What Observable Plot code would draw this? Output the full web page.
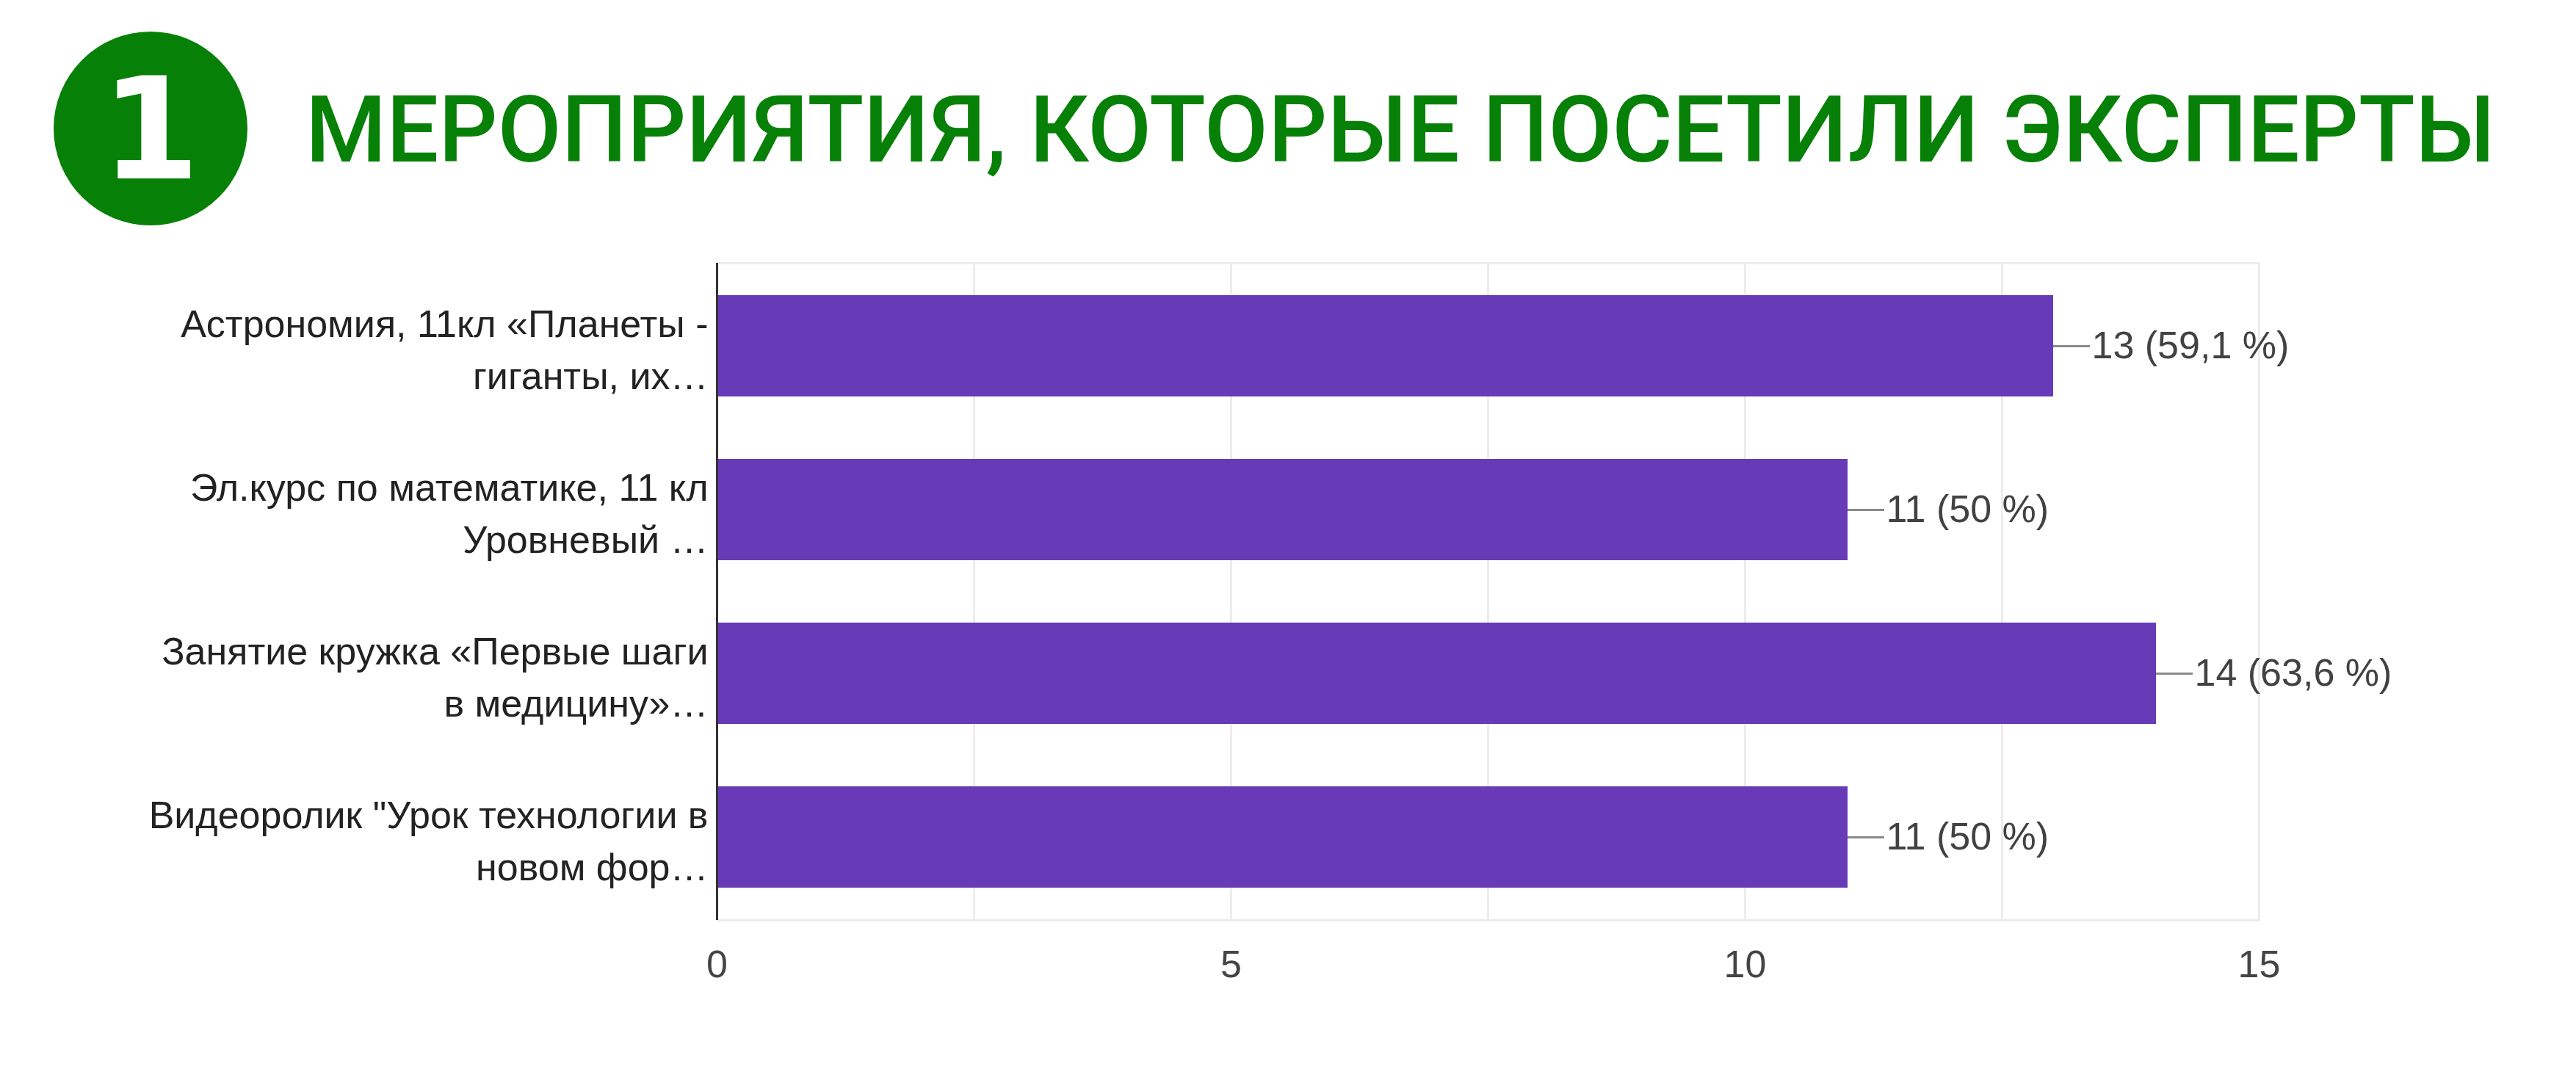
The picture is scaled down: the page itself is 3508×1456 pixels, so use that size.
<!DOCTYPE html>
<html>
<head>
<meta charset="utf-8">
<script src="https://cdn.jsdelivr.net/npm/d3@7"></script>
<script src="https://cdn.jsdelivr.net/npm/@observablehq/plot@0.6"></script>
<style>
  html, body { margin: 0; padding: 0; background: #fff; }
  #header { display: block; }
</style>
</head>
<body>
<div id="header"></div>
<div id="chart"></div>
<script>
// ---- data ----
const titleNumber = "1";
const titleText = "МЕРОПРИЯТИЯ, КОТОРЫЕ ПОСЕТИЛИ ЭКСПЕРТЫ";
const categories = [
  "Астрономия, 11кл «Планеты -\nгиганты, их…",
  "Эл.курс по математике, 11 кл\nУровневый …",
  "Занятие кружка «Первые шаги\nв медицину»…",
  "Видеоролик \"Урок технологии в\nновом фор…"
];
const counts = [13, 11, 14, 11];
const percents = ["59,1", "50", "63,6", "50"];
const xTicks = [0, 5, 10, 15];
const gridTicks = [0, 2.5, 5, 7.5, 10, 12.5, 15];

const data = categories.map((c, i) => ({
  category: c,
  count: counts[i],
  label: `${counts[i]} (${percents[i]} %)`
}));

// ---- header (title) ----
const W = 3508, H = 1456, headerH = 330;
const green = "#078007";
const ns = "http://www.w3.org/2000/svg";
const hsvg = document.createElementNS(ns, "svg");
hsvg.setAttribute("width", W);
hsvg.setAttribute("height", headerH);
hsvg.style.display = "block";
const circ = document.createElementNS(ns, "circle");
circ.setAttribute("cx", 205); circ.setAttribute("cy", 175); circ.setAttribute("r", 132);
circ.setAttribute("fill", green);
hsvg.appendChild(circ);
const num = document.createElementNS(ns, "text");
num.setAttribute("x", 205); num.setAttribute("y", 243);
num.setAttribute("text-anchor", "middle");
num.setAttribute("font-family", "'DejaVu Sans'");
num.setAttribute("font-weight", "bold");
num.setAttribute("font-size", 193);
num.setAttribute("fill", "#fff");
num.textContent = titleNumber;
hsvg.appendChild(num);
const tt = document.createElementNS(ns, "text");
tt.setAttribute("x", 416); tt.setAttribute("y", 220);
tt.setAttribute("font-family", "Roboto, 'DejaVu Sans'");
tt.setAttribute("font-weight", "500");
tt.setAttribute("font-size", 126);
tt.setAttribute("fill", green);
tt.textContent = titleText;
hsvg.appendChild(tt);
document.getElementById("header").appendChild(hsvg);
// fit title to its measured span in the reference only if clearly off
const targetLen = 2970;
const natural = tt.getComputedTextLength();
if (Math.abs(natural - targetLen) > 40) {
  tt.setAttribute("font-size", (126 * targetLen / natural).toFixed(1));
}

// ---- chart ----
const chart = Plot.plot({
  width: W,
  height: H - headerH,
  marginTop: 28,
  marginBottom: 203,
  marginLeft: 976,
  marginRight: 432,
  style: { fontFamily: "'Liberation Sans', Arial, sans-serif", fontSize: "52px", color: "#444", background: "#fff" },
  x: { domain: [0, 15], axis: null },
  y: { domain: categories, paddingInner: 0.38, paddingOuter: 0.19, axis: null },
  marks: [
    Plot.frame({ stroke: "#ececec", strokeWidth: 3 }),
    Plot.gridX(gridTicks, { stroke: "#ececec", strokeOpacity: 1, strokeWidth: 3 }),
    Plot.barX(data, { x: "count", y: "category", fill: "#673ab7" }),
    Plot.ruleY(data, { y: "category", x1: "count", x2: "count", insetRight: -50, stroke: "#8a8a8a", strokeWidth: 3 }),
    Plot.text(data, { x: "count", y: "category", text: "label", textAnchor: "start", dx: 52, fill: "#424242", fontSize: 52 }),
    Plot.text(data, { y: "category", text: "category", frameAnchor: "left", textAnchor: "end", dx: -12, lineHeight: 1.38, fill: "#222", fontSize: 52 }),
    Plot.ruleX([0], { stroke: "#333", strokeWidth: 3 }),
    Plot.axisX(xTicks, { tickSize: 0, tickPadding: 41, fontSize: 52, fill: "#444", tickFormat: d => String(d), label: null })
  ]
});
document.getElementById("chart").appendChild(chart);
</script>
</body>
</html>
